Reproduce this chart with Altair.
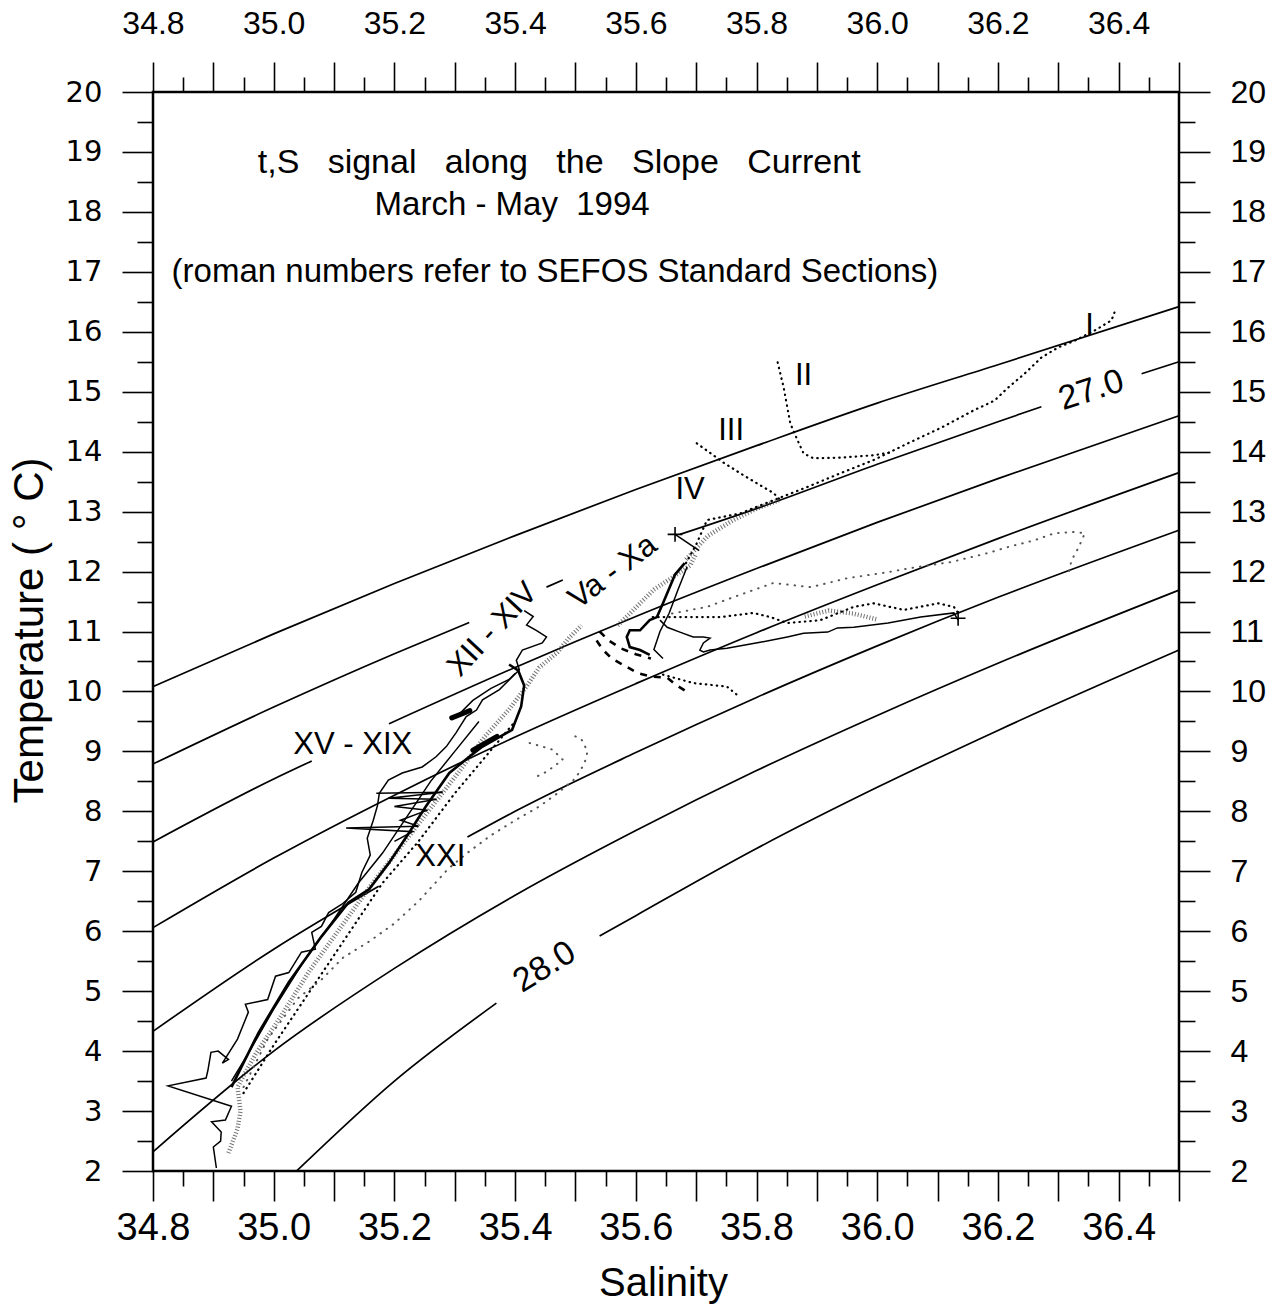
import altair as alt
import pandas as pd

# ---------------- axis ticks / labels ----------------
SAL_MAJOR = [34.8, 34.9, 35.0, 35.1, 35.2, 35.3, 35.4, 35.5, 35.6, 35.7, 35.8, 35.9,
             36.0, 36.1, 36.2, 36.3, 36.4, 36.5]
SAL_MINOR = [34.85, 34.95, 35.05, 35.15, 35.25, 35.35, 35.45, 35.55, 35.65, 35.75,
             35.85, 35.95, 36.05, 36.15, 36.25, 36.35, 36.45]
TEMP_MAJOR = [2, 3, 4, 5, 6, 7, 8, 9, 10, 11, 12, 13, 14, 15, 16, 17, 18, 19, 20]
TEMP_MINOR = [2.5, 3.5, 4.5, 5.5, 6.5, 7.5, 8.5, 9.5, 10.5, 11.5, 12.5, 13.5, 14.5,
              15.5, 16.5, 17.5, 18.5, 19.5]

# ---------------- isopycnals (sigma-t) ----------------
ISO = {
    "26.8": [([34.8, 35.0, 35.2, 35.4, 35.6, 35.8, 36.0, 36.2, 36.5],
              [10.08, 10.96, 11.80, 12.60, 13.37, 14.10, 14.81, 15.45, 16.42])],
    "27.0": [([34.8, 35.0, 35.2, 35.324], [8.79, 9.74, 10.63, 11.15]),
             ([35.452, 35.479], [11.74, 11.86]),
             ([35.673, 35.8, 36.0, 36.2, 36.272], [12.62, 13.05, 13.79, 14.50, 14.75]),
             ([36.438, 36.5], [15.30, 15.50])],
    "27.2": [([34.8, 35.0, 35.063], [7.49, 8.54, 8.84]),
             ([35.191, 35.4, 35.6, 35.8, 36.0, 36.2, 36.5],
              [9.46, 10.40, 11.25, 12.05, 12.82, 13.55, 14.60])],
    "27.4": [([34.8, 35.0, 35.2, 35.4, 35.6, 35.8, 36.0, 36.2, 36.5],
              [6.06, 7.22, 8.27, 9.24, 10.13, 10.98, 11.78, 12.55, 13.65])],
    "27.6": [([34.8, 35.0, 35.174], [4.33, 5.70, 6.75]),
             ([35.321, 35.4, 35.6, 35.8, 36.0, 36.2, 36.5],
              [7.57, 8.00, 8.98, 9.90, 10.76, 11.57, 12.69])],
    "27.8": [([34.8, 35.0, 35.2, 35.4, 35.6, 35.8, 36.0, 36.2, 36.5],
              [2.32, 4.00, 5.38, 6.60, 7.68, 8.68, 9.60, 10.47, 11.69])],
    "28.0": [([35.038, 35.2, 35.369], [2.00, 3.50, 4.80]),
             ([35.54, 35.6, 35.8, 36.0, 36.2, 36.5], [5.92, 6.26, 7.38, 8.40, 9.35, 10.69])],
}

# ---------------- t,S traces ----------------
TRACES = {
    "env": ("solid",
            [34.905, 34.900, 34.912, 34.913, 34.897, 34.920, 34.930, 34.825, 34.888, 34.891,
             34.896, 34.908, 34.925, 34.915, 34.940, 34.958, 34.953, 34.990, 35.003, 35.025,
             35.046, 35.069, 35.063, 35.079, 35.091, 35.113, 35.136, 35.146, 35.160, 35.155,
             35.165, 35.172, 35.175, 35.190, 35.213, 35.246, 35.269, 35.286, 35.302, 35.319,
             35.336, 35.346, 35.374, 35.390, 35.407, 35.402, 35.412, 35.445, 35.452, 35.435,
             35.419, 35.430, 35.415],
            [2.05, 2.40, 2.50, 2.65, 2.82, 2.85, 3.08, 3.42, 3.55, 3.68,
             3.98, 4.00, 3.86, 3.80, 4.20, 4.65, 4.78, 4.86, 5.25, 5.31,
             5.65, 5.70, 5.98, 6.08, 6.31, 6.45, 6.65, 6.98, 7.27, 7.55,
             7.85, 8.10, 8.30, 8.52, 8.64, 8.74, 8.91, 9.08, 9.31, 9.58,
             9.69, 9.86, 10.03, 10.19, 10.36, 10.52, 10.69, 10.81, 10.91, 11.02,
             11.11, 11.25, 11.35]),
    "center": ("thick",
               [34.930, 34.975, 35.025, 35.079, 35.124, 35.158, 35.191, 35.224, 35.252, 35.291,
                35.324, 35.346, 35.395, 35.410, 35.415, 35.405, 35.390],
               [3.40, 4.31, 5.15, 5.91, 6.48, 6.70, 7.14, 7.64, 8.08, 8.64,
                8.91, 9.08, 9.36, 9.75, 10.10, 10.35, 10.45]),
    "env2": ("solid",
             [34.93, 34.96, 35.00, 35.05, 35.10, 35.14, 35.18, 35.22, 35.26, 35.30, 35.34],
             [3.50, 4.00, 4.70, 5.50, 6.20, 6.80, 7.30, 7.90, 8.50, 9.00, 9.50]),
    "zigzag": ("solid",
               [35.17, 35.28, 35.19, 35.27, 35.20, 35.255, 35.21, 35.24, 35.12, 35.23, 35.20],
               [8.30, 8.32, 8.22, 8.20, 8.08, 8.02, 7.85, 7.75, 7.72, 7.66, 7.50]),
    "branch": ("solid",
               [35.30, 35.33, 35.36, 35.39, 35.40],
               [9.55, 9.85, 10.05, 10.20, 10.30]),
    "blob1": ("blob", [35.33, 35.37], [9.02, 9.25]),
    "blob2": ("blob", [35.295, 35.325], [9.56, 9.68]),
    "band_dot": ("dotted",
                 [34.95, 35.00, 35.06, 35.12, 35.18, 35.24, 35.30, 35.35, 35.40],
                 [3.30, 4.10, 5.00, 5.90, 6.80, 7.50, 8.30, 8.90, 9.50]),
    "stip_main": ("stipple",
                  [34.925, 34.94, 34.945, 34.94, 34.97, 35.01, 35.06, 35.11, 35.16, 35.21,
                   35.26, 35.31, 35.35, 35.39, 35.42, 35.44, 35.47, 35.49, 35.51],
                  [2.30, 2.70, 3.00, 3.40, 3.95, 4.55, 5.35, 6.05, 6.75, 7.40,
                   8.05, 8.70, 9.25, 9.70, 10.10, 10.40, 10.65, 10.90, 11.10]),
    "xxi": ("gdotted",
            [34.95, 34.99, 35.04, 35.08, 35.115, 35.16, 35.20, 35.24, 35.29, 35.32,
             35.36, 35.40, 35.44, 35.47, 35.50, 35.515, 35.52, 35.51, 35.49],
            [3.40, 4.20, 4.88, 5.20, 5.56, 5.84, 6.13, 6.50, 7.05, 7.30,
             7.60, 7.85, 8.08, 8.30, 8.55, 8.80, 9.00, 9.20, 9.30]),
    "xxi_loop": ("gdotted", [35.424, 35.462, 35.479, 35.452, 35.43],
                 [9.14, 9.03, 8.86, 8.66, 8.55]),
    "vaxa1": ("thick",
              [35.681, 35.665, 35.645, 35.635, 35.623, 35.607, 35.590, 35.585, 35.590, 35.607,
               35.623],
              [12.14, 11.95, 11.47, 11.24, 11.19, 11.02, 11.02, 10.91, 10.74, 10.69, 10.61]),
    "vaxa2": ("solid", [35.685, 35.67, 35.655, 35.64, 35.63, 35.645],
              [12.08, 11.70, 11.30, 11.00, 10.70, 10.55]),
    "vaxa_dots": ("stipple", [35.57, 35.60, 35.63, 35.66, 35.69, 35.70],
                  [11.10, 11.40, 11.70, 11.90, 12.10, 12.30]),
    "right_solid": ("solid",
                    [35.640, 35.652, 35.673, 35.695, 35.712, 35.723, 35.712, 35.706, 35.712,
                     35.723, 35.751, 35.806, 35.851, 35.878, 35.918, 35.934, 35.961, 36.018,
                     36.072, 36.127, 36.134],
                    [11.19, 11.07, 10.99, 10.91, 10.91, 10.89, 10.81, 10.69, 10.66,
                     10.69, 10.72, 10.82, 10.91, 10.97, 10.99, 11.06, 11.07, 11.14,
                     11.24, 11.31, 11.19]),
    "right_dotted": ("dotted",
                     [35.628, 35.662, 35.74, 35.795, 35.823, 35.851, 35.906, 35.961, 35.994,
                      36.044, 36.101, 36.127, 36.134],
                     [11.24, 11.24, 11.24, 11.31, 11.24, 11.14, 11.19, 11.41, 11.47,
                      11.36, 11.47, 11.41, 11.31]),
    "right_stip": ("stipple", [35.88, 35.92, 35.96, 36.00], [11.25, 11.35, 11.30, 11.20]),
    "upper_gray": ("gdotted",
                   [35.66, 35.718, 35.761, 35.828, 35.89, 35.951, 36.018, 36.056, 36.123,
                    36.184, 36.217, 36.26, 36.294, 36.327, 36.344, 36.334, 36.322, 36.317],
                   [11.30, 11.41, 11.57, 11.81, 11.74, 11.89, 11.99, 12.06, 12.16,
                    12.31, 12.41, 12.52, 12.64, 12.66, 12.64, 12.41, 12.19, 11.97]),
    "dashed1": ("dashed",
                [35.535, 35.545, 35.56, 35.585, 35.602, 35.625, 35.652, 35.665, 35.687],
                [10.85, 10.70, 10.55, 10.41, 10.31, 10.25, 10.23, 10.12, 9.98]),
    "dashed2": ("dashed", [35.54, 35.555, 35.575, 35.60, 35.625],
                [11.00, 10.85, 10.72, 10.62, 10.55]),
    "dotted2": ("dotted", [35.645, 35.695, 35.723, 35.751, 35.773],
                [10.28, 10.14, 10.11, 10.08, 9.90]),
    "diag": ("dotted",
             [35.683, 35.70, 35.718, 35.773, 35.828, 35.884, 35.939, 35.994, 36.051, 36.106,
              36.16, 36.194, 36.217, 36.244, 36.272, 36.30, 36.327, 36.36, 36.388, 36.393],
             [12.14, 12.45, 12.86, 12.97, 13.19, 13.41, 13.64, 13.86, 14.14, 14.40,
              14.69, 14.85, 15.07, 15.30, 15.57, 15.74, 15.85, 16.02, 16.19, 16.32]),
    "diag_stip": ("stipple", [35.683, 35.72, 35.76, 35.80, 35.84],
                  [12.20, 12.60, 12.85, 13.05, 13.20]),
    "sec_II": ("dotted",
               [35.835, 35.845, 35.851, 35.856, 35.868, 35.878, 35.894, 35.939, 35.994, 36.023],
               [15.49, 15.07, 14.74, 14.47, 14.19, 13.97, 13.89, 13.90, 13.94, 13.99]),
    "sec_III": ("dotted", [35.701, 35.745, 35.773, 35.801, 35.828, 35.84],
                [14.14, 13.82, 13.64, 13.47, 13.31, 13.19]),
    "iv_tick": ("solid", [35.665, 35.705], [12.62, 12.35]),
}

CROSS_S = [35.665, 36.134]
CROSS_T = [12.62, 11.22]

# ---------------- annotations ----------------
LABEL_TEXT = ["XV - XIX", "XXI", "XII - XIV", "Va - Xa", "IV", "III", "II", "I", "27.0", "28.0"]
LABEL_S = [35.131, 35.276, 35.363, 35.562, 35.690, 35.758, 35.878, 36.352, 36.355, 35.449]
LABEL_T = [9.11, 7.23, 11.03, 11.99, 13.36, 14.35, 15.27, 16.10, 15.02, 5.40]
LABEL_ANGLE = [0, 0, 313, 323, 0, 0, 0, 0, 342, 328]
LABEL_SIZE = [31, 31, 31, 31, 31, 31, 31, 31, 34, 34]

NB = "\u00a0"
TITLE_TEXT = [f"t,S{NB*3}signal{NB*3}along{NB*3}the{NB*3}Slope{NB*3}Current",
              f"March - May{NB*2}1994",
              "(roman numbers refer to SEFOS Standard Sections)"]
TITLE_S = [35.473, 35.395, 35.466]
TITLE_T = [18.82, 18.12, 17.00]
TITLE_SIZE = [34, 33, 33]

# ---------------- build tables ----------------
iso_rows = []
for sig, segs in ISO.items():
    for k, (ss, tt) in enumerate(segs):
        for s, t in zip(ss, tt):
            iso_rows.append({"seg": f"{sig}_{k}", "S": s, "T": t})
iso_df = pd.DataFrame(iso_rows)

tr_rows = []
for name, (style, ss, tt) in TRACES.items():
    for i, (s, t) in enumerate(zip(ss, tt)):
        tr_rows.append({"trace": name, "style": style, "i": i, "S": s, "T": t})
tr_df = pd.DataFrame(tr_rows)

lab_df = pd.DataFrame({"text": LABEL_TEXT, "S": LABEL_S, "T": LABEL_T,
                       "angle": LABEL_ANGLE, "size": LABEL_SIZE})
title_df = pd.DataFrame({"text": TITLE_TEXT, "S": TITLE_S, "T": TITLE_T, "size": TITLE_SIZE})
cross_df = pd.DataFrame({"S": CROSS_S, "T": CROSS_T})
dummy = pd.DataFrame({"S": [35.5], "T": [10.0]})

xs = alt.Scale(domain=[34.8, 36.5], nice=False, zero=False)
ys = alt.Scale(domain=[2, 20], nice=False, zero=False)
X = alt.X("S:Q", scale=xs, axis=None)
Y = alt.Y("T:Q", scale=ys, axis=None)

FONT = "Liberation Sans"

layers = []
layers.append(alt.Chart(iso_df).mark_line(interpolate="monotone", color="black",
                                          strokeWidth=1.7).encode(
    x=X, y=Y, detail="seg:N", order="S:Q"))

STYLES = {
    "stipple": dict(color="#444444", strokeWidth=4.5, strokeDash=[1, 2], opacity=0.75),
    "solid": dict(color="black", strokeWidth=1.5),
    "thick": dict(color="black", strokeWidth=2.6),
    "blob": dict(color="black", strokeWidth=5, strokeCap="round"),
    "dotted": dict(color="black", strokeWidth=2.2, strokeDash=[0.5, 5], strokeCap="round"),
    "gdotted": dict(color="#555555", strokeWidth=2.0, strokeDash=[0.5, 7], strokeCap="round"),
    "dashed": dict(color="black", strokeWidth=2.6, strokeDash=[7, 7]),
}
for st, kw in STYLES.items():
    sub = tr_df[tr_df["style"] == st]
    if len(sub) == 0:
        continue
    layers.append(alt.Chart(sub).mark_line(**kw).encode(
        x=X, y=Y, detail="trace:N", order="i:Q"))

layers.append(alt.Chart(cross_df).mark_point(
    shape="M-1,0L1,0M0,-1L0,1", filled=False, color="black", size=220,
    strokeWidth=1.6, opacity=1).encode(x=X, y=Y))

layers.append(alt.Chart(lab_df).mark_text(font=FONT, color="black", align="center",
                                          baseline="middle").encode(
    x=X, y=Y, text="text:N", angle=alt.Angle("angle:Q", scale=None),
    size=alt.Size("size:Q", scale=None)))

layers.append(alt.Chart(title_df).mark_text(font=FONT, color="black",
                                            align="center", baseline="middle").encode(
    x=X, y=Y, text="text:N", size=alt.Size("size:Q", scale=None)))

XLAB = "abs(datum.value*5 - round(datum.value*5)) < 0.001 ? format(datum.value, '.1f') : ''"

common = dict(domain=False, grid=False, tickColor="black", tickWidth=1.6,
              labelColor="black", labelOverlap=False, labelFlush=False)


def axis_layer(xa, ya, xt=None, yt=None):
    return alt.Chart(dummy).mark_point(opacity=0).encode(
        x=alt.X("S:Q", scale=xs, axis=xa, title=xt),
        y=alt.Y("T:Q", scale=ys, axis=ya, title=yt))


# bottom / left major with labels and titles
layers.append(axis_layer(
    alt.Axis(orient="bottom", values=SAL_MAJOR, tickSize=30, labelExpr=XLAB,
             labelFont=FONT, labelFontSize=38, labelPadding=8,
             titleFont=FONT, titleFontSize=40, titleFontWeight="normal", titleColor="black",
             titleX=510, titleY=112, titleBaseline="middle", titleAlign="center", **common),
    alt.Axis(orient="left", values=TEMP_MAJOR, tickSize=31, format="d",
             labelFont="DejaVu Sans", labelFontSize=29, labelPadding=20,
             titleFont=FONT, titleFontSize=42, titleFontWeight="normal", titleColor="black",
             titleX=-124, titleY=538, titleAngle=270, titleBaseline="middle",
             titleAlign="center", **common),
    "Salinity", "Temperature ( ° C)"))
# bottom / left minor
layers.append(axis_layer(
    alt.Axis(orient="bottom", values=SAL_MINOR, tickSize=15, labels=False, **common),
    alt.Axis(orient="left", values=TEMP_MINOR, tickSize=16, labels=False, **common)))
# top / right major
layers.append(axis_layer(
    alt.Axis(orient="top", values=SAL_MAJOR, tickSize=30, labelExpr=XLAB,
             labelFont=FONT, labelFontSize=32, labelPadding=22, **common),
    alt.Axis(orient="right", values=TEMP_MAJOR, tickSize=31, format="d",
             labelFont=FONT, labelFontSize=32, labelPadding=20, **common)))
# top / right minor
layers.append(axis_layer(
    alt.Axis(orient="top", values=SAL_MINOR, tickSize=15, labels=False, **common),
    alt.Axis(orient="right", values=TEMP_MINOR, tickSize=16, labels=False, **common)))

chart = alt.layer(*layers).resolve_scale(x="independent", y="independent").properties(
    width=1026, height=1079,
    autosize=alt.AutoSizeParams(type="none"),
    padding={"left": 153, "top": 92, "right": 103, "bottom": 138},
    background="white",
).configure_view(stroke="black", strokeWidth=2.5)

chart.save("out.html", embed_options={"renderer": "svg", "actions": False})
